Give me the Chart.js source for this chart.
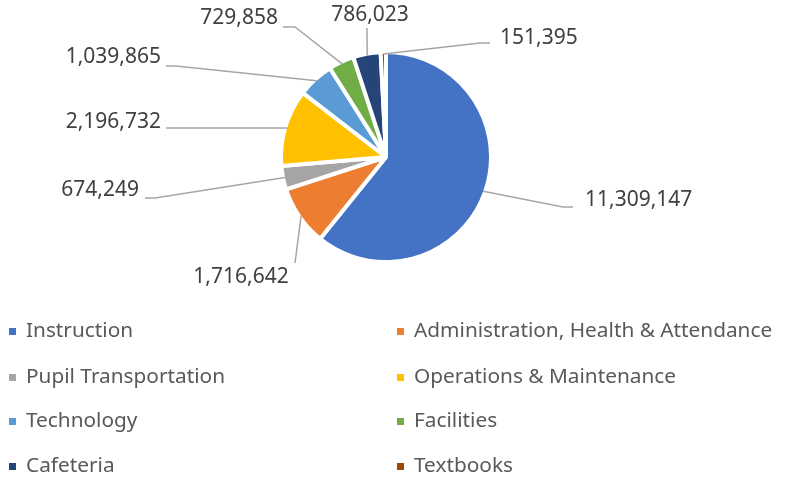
<!DOCTYPE html>
<html>
<head>
<meta charset="utf-8">
<script src="https://cdn.jsdelivr.net/npm/chart.js@4.4.0/dist/chart.umd.min.js"></script>
<style>
  html, body { margin: 0; padding: 0; background: #fff; }
  #wrap { width: 785px; height: 486px; position: relative; }
</style>
</head>
<body>
<div id="wrap"><canvas id="chart"></canvas></div>
<script>
// Expenditure categories and amounts
const categories = ['Instruction', 'Administration, Health & Attendance', 'Pupil Transportation',
  'Operations & Maintenance', 'Technology', 'Facilities', 'Cafeteria', 'Textbooks'];
const amounts = [11309147, 1716642, 674249, 2196732, 1039865, 729858, 786023, 151395];
const sliceColors = ['#4472C4', '#ED7D31', '#A5A5A5', '#FFC000', '#5B9BD5', '#70AD47', '#264478', '#9E480E'];

// label placement: text x, text y, align, elbow points for the leader line
const labelLayout = [
  { x: 585, y: 200, align: 'left',   pts: [[563, 207], [573, 207]] },
  { x: 241, y: 277, align: 'center', pts: [[295, 263]] },
  { x: 139, y: 190, align: 'right',  pts: [[155, 198], [145, 198]] },
  { x: 161, y: 122, align: 'right',  pts: [[176, 128], [166, 128]] },
  { x: 161, y: 57,  align: 'right',  pts: [[176, 66], [166, 66]] },
  { x: 278, y: 18,  align: 'right',  pts: [[295, 27], [283, 27]] },
  { x: 370, y: 15,  align: 'center', pts: [[367, 28]] },
  { x: 500, y: 38,  align: 'left',   pts: [[480, 43], [490, 43]] }
];

const FONT = '"Noto Sans", sans-serif';

const labelPlugin = {
  id: 'leaderLabels',
  afterDatasetsDraw(chart) {
    const ctx = chart.ctx;
    const meta = chart.getDatasetMeta(0);
    ctx.save();
    meta.data.forEach((arc, i) => {
      const p = arc.getProps(['x', 'y', 'startAngle', 'endAngle', 'outerRadius'], true);
      const mid = (p.startAngle + p.endAngle) / 2;
      const r = p.outerRadius - 2;
      const sx = p.x + Math.cos(mid) * r;
      const sy = p.y + Math.sin(mid) * r;
      const lay = labelLayout[i];
      ctx.strokeStyle = '#A6A6A6';
      ctx.lineWidth = 1.5;
      ctx.beginPath();
      ctx.moveTo(sx, sy);
      lay.pts.forEach(pt => ctx.lineTo(pt[0], pt[1]));
      ctx.stroke();
      ctx.fillStyle = '#404040';
      ctx.font = '21px ' + FONT;
      ctx.textAlign = lay.align;
      ctx.textBaseline = 'middle';
      ctx.fillText(amounts[i].toLocaleString('en-US'), lay.x, lay.y);
    });
    ctx.restore();
  }
};

// two-column legend under the pie
const legendPlugin = {
  id: 'twoColLegend',
  afterDraw(chart) {
    const ctx = chart.ctx;
    const rows = [331, 377, 421, 466];
    const cols = [9, 397];
    ctx.save();
    ctx.font = '20.8px ' + FONT;
    ctx.textBaseline = 'middle';
    ctx.textAlign = 'left';
    categories.forEach((name, i) => {
      const x = cols[i % 2];
      const y = rows[Math.floor(i / 2)];
      ctx.fillStyle = sliceColors[i];
      ctx.fillRect(x, y - 3, 7, 7);
      ctx.fillStyle = '#595959';
      ctx.fillText(name, x + 17, y);
    });
    ctx.restore();
  }
};

new Chart(document.getElementById('chart'), {
  type: 'pie',
  data: {
    labels: categories,
    datasets: [{
      data: amounts,
      backgroundColor: sliceColors,
      borderColor: '#ffffff',
      borderWidth: 4,
      hoverOffset: 0
    }]
  },
  options: {
    responsive: true,
    maintainAspectRatio: false,
    animation: false,
    layout: { padding: { top: 50, bottom: 222, left: 279, right: 292 } },
    plugins: {
      legend: { display: false },
      tooltip: { enabled: false }
    }
  },
  plugins: [labelPlugin, legendPlugin]
});
</script>
</body>
</html>
